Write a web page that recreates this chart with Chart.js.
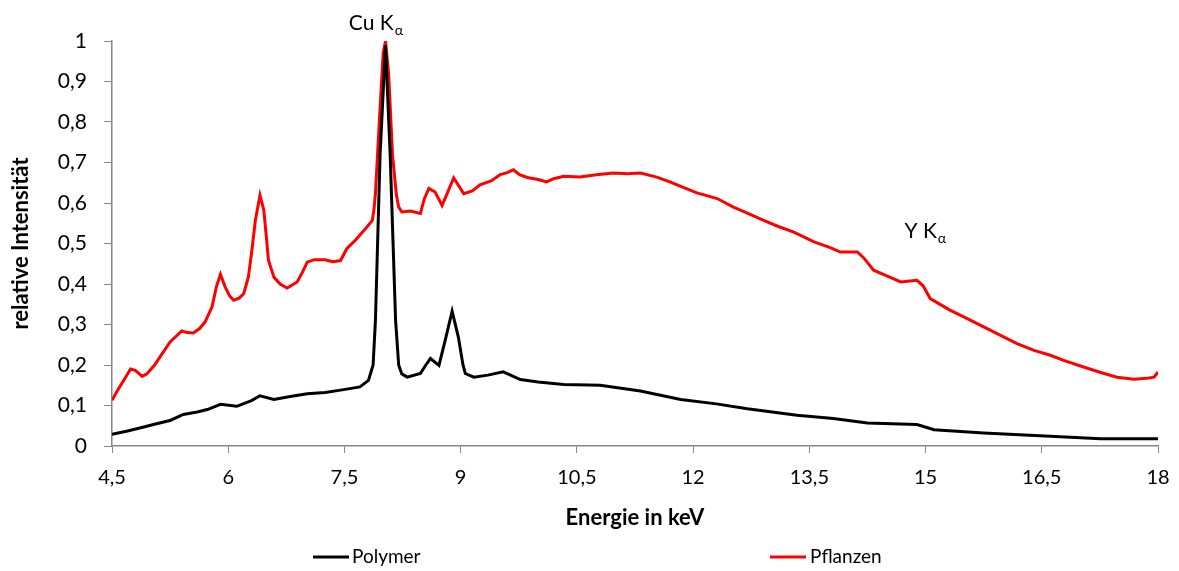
<!DOCTYPE html>
<html><head><meta charset="utf-8">
<script src="https://cdn.jsdelivr.net/npm/chart.js@4/dist/chart.umd.min.js"></script>
<style>html,body{margin:0;padding:0;background:#fff}#wrap{width:1179px;height:571px}</style>
</head><body><div id="wrap"><canvas id="c"></canvas></div>
<script>
const xTicks = [4.5, 6, 7.5, 9, 10.5, 12, 13.5, 15, 16.5, 18];
const polymerX = [4.5,4.7,4.91,5.1,5.25,5.42,5.6,5.73,5.9,6.11,6.3,6.41,6.59,6.8,7.02,7.25,7.45,7.7,7.81,7.87,7.9,7.96,8.03,8.09,8.16,8.2,8.24,8.31,8.48,8.55,8.61,8.72,8.8,8.89,8.97,9.03,9.06,9.17,9.35,9.55,9.77,10.0,10.33,10.8,11.32,11.84,12.3,12.7,13.34,13.81,14.25,14.89,15.11,15.75,16.61,17.26,18.0];
const polymerY = [0.029,0.037,0.047,0.056,0.063,0.078,0.084,0.09,0.103,0.098,0.112,0.124,0.115,0.122,0.129,0.132,0.138,0.146,0.162,0.2,0.31,0.72,0.99,0.72,0.31,0.2,0.178,0.17,0.179,0.2,0.216,0.199,0.261,0.333,0.269,0.2,0.179,0.17,0.175,0.183,0.164,0.158,0.152,0.15,0.136,0.115,0.104,0.092,0.076,0.068,0.057,0.053,0.04,0.032,0.024,0.018,0.018];
const pflanzenX = [4.5,4.58,4.66,4.74,4.8,4.89,4.95,5.05,5.12,5.25,5.4,5.47,5.55,5.63,5.7,5.79,5.85,5.9,5.96,6.02,6.07,6.14,6.2,6.26,6.31,6.35,6.41,6.46,6.52,6.59,6.67,6.76,6.89,6.96,7.02,7.11,7.25,7.35,7.45,7.53,7.65,7.79,7.86,7.88,7.9,7.95,8.0,8.03,8.07,8.12,8.17,8.2,8.24,8.35,8.48,8.53,8.59,8.67,8.76,8.84,8.91,8.97,9.04,9.15,9.25,9.4,9.51,9.6,9.68,9.76,9.86,10.0,10.11,10.2,10.33,10.54,10.75,10.97,11.15,11.32,11.53,11.7,11.84,12.05,12.31,12.52,12.7,12.91,13.1,13.3,13.56,13.77,13.9,14.12,14.2,14.33,14.5,14.68,14.89,14.97,15.06,15.32,15.5,15.75,16.0,16.18,16.4,16.61,16.8,17.04,17.25,17.47,17.69,17.85,17.95,18.0];
const pflanzenY = [0.113,0.14,0.165,0.19,0.187,0.172,0.178,0.2,0.22,0.257,0.284,0.28,0.279,0.29,0.306,0.343,0.395,0.424,0.393,0.37,0.36,0.365,0.376,0.417,0.49,0.557,0.619,0.582,0.458,0.417,0.4,0.39,0.405,0.43,0.454,0.46,0.46,0.455,0.458,0.487,0.51,0.541,0.557,0.582,0.624,0.8,0.97,1.0,0.92,0.72,0.62,0.59,0.578,0.58,0.574,0.61,0.636,0.627,0.594,0.63,0.662,0.644,0.623,0.63,0.645,0.655,0.67,0.675,0.682,0.67,0.663,0.658,0.652,0.66,0.666,0.664,0.67,0.674,0.672,0.674,0.664,0.652,0.641,0.625,0.611,0.59,0.575,0.557,0.542,0.528,0.504,0.49,0.479,0.479,0.465,0.434,0.42,0.405,0.409,0.395,0.364,0.335,0.318,0.294,0.27,0.253,0.236,0.224,0.21,0.195,0.182,0.17,0.165,0.167,0.17,0.183];
const seriesNames = ['Polymer', 'Pflanzen'];
const seriesColors = ['#000000', '#FF0000'];
const annotations = [{base: 'Cu K', sub: 'α', x: 7.9, y: 1.026}, {base: 'Y K', sub: 'α', x: 14.99, y: 0.513}];

const FONT = 'Lato, "Open Sans", sans-serif';
const fmt = v => String(Math.round(v * 10) / 10).replace('.', ',');
const toPts = (xs, ys) => xs.map((x, i) => ({x, y: ys[i]}));

const extras = {
  id: 'extras',
  afterDraw(chart) {
    const ctx = chart.ctx, xs = chart.scales.x, ys = chart.scales.y;
    ctx.save();
    ctx.fillStyle = '#000';
    ctx.textBaseline = 'alphabetic';
    annotations.forEach(a => {
      ctx.font = '21px ' + FONT;
      const w1 = ctx.measureText(a.base).width;
      ctx.font = '14px ' + FONT;
      const w2 = ctx.measureText(a.sub).width;
      const px = xs.getPixelForValue(a.x) - (w1 + w2) / 2;
      const py = ys.getPixelForValue(a.y);
      ctx.font = '21px ' + FONT;
      ctx.textAlign = 'left';
      ctx.fillText(a.base, px, py);
      ctx.font = '14px ' + FONT;
      ctx.fillText(a.sub, px + w1 + 1, py + 5);
    });
    const legendPos = [{x: 313, text: 352}, {x: 770, text: 810}];
    const ly = 557;
    ctx.font = '19px ' + FONT;
    ctx.textBaseline = 'middle';
    seriesNames.forEach((n, i) => {
      ctx.strokeStyle = seriesColors[i];
      ctx.lineWidth = 3;
      ctx.beginPath();
      ctx.moveTo(legendPos[i].x, ly);
      ctx.lineTo(legendPos[i].x + 36, ly);
      ctx.stroke();
      ctx.fillText(n, legendPos[i].text, ly);
    });
    ctx.restore();
  }
};

new Chart(document.getElementById('c'), {
  type: 'line',
  data: {
    datasets: [
      {label: seriesNames[0], data: toPts(polymerX, polymerY), borderColor: seriesColors[0], borderWidth: 3, pointRadius: 0, tension: 0},
      {label: seriesNames[1], data: toPts(pflanzenX, pflanzenY), borderColor: seriesColors[1], borderWidth: 3, pointRadius: 0, tension: 0}
    ]
  },
  options: {
    responsive: true, maintainAspectRatio: false, animation: false,
    layout: {padding: {top: 41, right: 21, bottom: 40, left: 0}},
    plugins: {legend: {display: false}, tooltip: {enabled: false}},
    scales: {
      x: {
        type: 'linear', min: 4.5, max: 18,
        afterBuildTicks: s => { s.ticks = xTicks.map(v => ({value: v})); },
        afterFit: s => { s.height = 85; s.paddingLeft = 0; s.paddingRight = 0; },
        ticks: {color: '#000', font: {family: FONT, size: 20}, callback: v => fmt(v), maxRotation: 0, padding: 13},
        grid: {drawOnChartArea: false, drawTicks: true, tickLength: 7, color: '#868686'},
        border: {display: true, color: '#868686', width: 1.5},
        title: {display: true, text: 'Energie in keV', color: '#000', font: {family: FONT, size: 22, weight: 'bold'}, padding: {top: 0, bottom: 0}}
      },
      y: {
        min: 0, max: 1,
        afterFit: s => { s.width = 112; s.paddingTop = 0; s.paddingBottom = 0; },
        ticks: {stepSize: 0.1, color: '#000', font: {family: FONT, size: 21}, callback: v => fmt(v), padding: 17},
        grid: {drawOnChartArea: false, drawTicks: true, tickLength: 8, color: '#868686'},
        border: {display: true, color: '#868686', width: 1.5},
        title: {display: true, text: 'relative Intensität', color: '#000', font: {family: FONT, size: 22, weight: 'bold'}, padding: {top: 8, bottom: 0}}
      }
    }
  },
  plugins: [extras]
});
</script>
</body></html>
